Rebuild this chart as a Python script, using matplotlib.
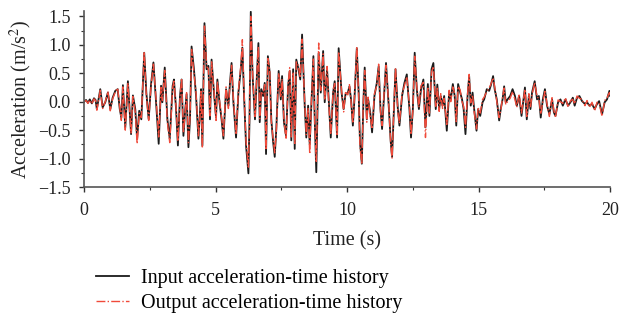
import matplotlib
matplotlib.use("Agg")
import matplotlib.pyplot as plt
from matplotlib.ticker import MultipleLocator

# peak / trough readings (time in s, acceleration in m/s^2)
t_s = [
    0.00, 0.08, 0.15, 0.22, 0.30, 0.38, 0.44, 0.49, 0.62, 0.71,
    0.81, 0.91, 1.00, 1.09, 1.19, 1.28, 1.36, 1.42, 1.48, 1.57,
    1.67, 1.79, 1.86, 1.95, 2.02, 2.10, 2.18, 2.29, 2.37, 2.46,
    2.55, 2.64, 2.74, 2.84, 2.93, 2.98, 3.07, 3.17, 3.26, 3.37,
    3.42, 3.50, 3.57, 3.65, 3.71, 3.78, 3.84, 3.90, 3.97, 4.03,
    4.09, 4.18, 4.26, 4.35, 4.41, 4.45, 4.50, 4.58, 4.66, 4.73,
    4.79, 4.85, 4.94, 5.02, 5.07, 5.15, 5.23, 5.30, 5.40, 5.49,
    5.55, 5.61, 5.68, 5.78, 5.87, 5.96, 6.02, 6.08, 6.16, 6.25,
    6.29, 6.34, 6.41, 6.50, 6.56, 6.63, 6.68, 6.74, 6.81, 6.87,
    6.92, 6.99, 7.06, 7.12, 7.19, 7.25, 7.31, 7.40, 7.48, 7.53,
    7.60, 7.68, 7.76, 7.82, 7.88, 7.95, 8.01, 8.07, 8.14, 8.22,
    8.29, 8.39, 8.45, 8.52, 8.58, 8.64, 8.72, 8.77, 8.83, 8.92,
    9.00, 9.09, 9.15, 9.24, 9.30, 9.38, 9.47, 9.53, 9.62, 9.68,
    9.79, 9.87, 9.94, 10.03, 10.09, 10.15, 10.22, 10.28, 10.37, 10.44,
    10.49, 10.56, 10.62, 10.67, 10.75, 10.80, 10.88, 10.95, 11.04, 11.13,
    11.20, 11.27, 11.33, 11.42, 11.48, 11.59, 11.66, 11.71, 11.78, 11.84,
    11.93, 11.99, 12.09, 12.18, 12.27, 12.37, 12.43, 12.50, 12.57, 12.65,
    12.73, 12.81, 12.90, 12.98, 13.07, 13.13, 13.21, 13.28, 13.37, 13.43,
    13.50, 13.56, 13.63, 13.69, 13.79, 13.88, 13.94, 14.02, 14.09, 14.15,
    14.22, 14.30, 14.37, 14.43, 14.50, 14.58, 14.64, 14.70, 14.77, 14.83,
    14.92, 14.98, 15.06, 15.15, 15.21, 15.31, 15.40, 15.46, 15.55, 15.61,
    15.69, 15.78, 15.84, 15.91, 15.97, 16.03, 16.10, 16.20, 16.29, 16.38,
    16.45, 16.54, 16.63, 16.76, 16.83, 16.91, 16.97, 17.03, 17.13, 17.22,
    17.29, 17.36, 17.44, 17.52, 17.60, 17.69, 17.79, 17.86, 17.92, 18.02,
    18.11, 18.20, 18.30, 18.40, 18.49, 18.58, 18.65, 18.74, 18.83, 18.93,
    19.04, 19.12, 19.21, 19.31, 19.41, 19.50, 19.58, 19.69, 19.79, 19.88,
    19.97, 20.00,
]

acc_in = [
    0.00, 0.03, -0.02, 0.04, -0.03, 0.06, 0.03, -0.13, 0.22, -0.10,
    -0.01, 0.16, -0.13, 0.07, 0.19, 0.22, -0.13, -0.28, 0.29, -0.45,
    0.36, -0.57, 0.11, -0.13, -0.65, -0.16, -0.31, 0.86, 0.16, -0.31,
    0.31, 0.69, -0.01, -0.74, 0.28, -0.01, 0.60, -0.31, -0.65, 0.28,
    0.39, -0.13, -0.77, 0.10, 0.39, -0.60, -0.19, 0.13, -0.80, -0.31,
    0.97, 0.57, 0.10, -0.65, -0.19, 0.22, -0.77, 1.38, 0.57, 0.63,
    -0.31, 0.74, 0.16, -0.28, 0.39, -0.01, -0.31, -0.65, 0.22, -0.07,
    0.33, 0.68, -0.01, -0.63, 0.16, 0.57, 0.95, 0.16, -0.77, -1.26,
    -0.36, 1.58, 0.45, -0.31, 0.33, 1.03, -0.36, 0.22, 0.10, 0.33,
    -0.92, 0.80, 0.51, -0.31, -0.71, -0.97, -0.48, 0.54, 0.04, 0.45,
    -0.36, -0.60, 0.28, 0.54, -0.68, 0.57, -0.83, 0.74, 0.60, 0.39,
    1.18, -0.07, -0.63, -0.07, -0.75, -0.07, 0.80, -0.31, -1.24, 0.85,
    0.16, 0.89, -0.01, 0.57, 0.04, -0.63, 0.16, 0.36, -0.63, 0.94,
    0.16, -0.13, 0.13, 0.16, 0.27, 0.04, -0.42, 0.04, 0.94, 0.16,
    -0.71, -1.09, -0.01, 0.60, -0.31, 0.04, -0.19, -0.54, 0.10, 0.33,
    0.62, -0.13, -0.48, 0.22, 0.68, -0.13, -0.71, -0.97, -0.13, 0.57,
    -0.13, -0.42, 0.10, 0.33, 0.48, -0.13, -0.63, -0.13, 0.86, 0.22,
    -0.13, 0.22, 0.39, -0.45, 0.31, -0.25, 0.57, 0.68, -0.13, 0.30,
    -0.13, 0.10, -0.07, 0.10, -0.51, 0.16, 0.04, 0.31, 0.10, -0.42,
    0.31, 0.16, 0.04, -0.13, -0.57, 0.10, 0.45, -0.07, 0.16, -0.13,
    -0.51, -0.13, -0.25, -0.01, 0.04, 0.22, 0.19, 0.28, 0.45, 0.22,
    0.04, -0.33, -0.13, 0.04, 0.27, -0.01, 0.04, 0.10, 0.22, 0.10,
    -0.07, 0.10, -0.25, 0.25, -0.31, 0.10, -0.13, 0.16, 0.36, 0.04,
    0.10, -0.28, 0.04, 0.22, -0.07, -0.22, 0.04, -0.19, -0.25, -0.01,
    0.04, -0.07, 0.04, -0.07, -0.01, 0.07, -0.07, 0.07, 0.10, 0.01,
    -0.04, -0.01, -0.07, -0.04, -0.13, -0.04, 0.01, -0.22, -0.01, 0.04,
    0.19, 0.10,
]

acc_out = [
    0.00, 0.02, -0.03, 0.03, -0.04, 0.05, 0.02, -0.15, 0.20, -0.12,
    0.00, 0.18, -0.16, 0.05, 0.17, 0.24, -0.10, -0.33, 0.26, -0.50,
    0.33, -0.55, 0.09, -0.18, -0.74, -0.20, -0.28, 0.88, 0.12, -0.33,
    0.28, 0.66, 0.04, -0.62, 0.25, 0.02, 0.55, -0.36, -0.72, 0.24,
    0.36, -0.10, -0.70, 0.06, 0.41, -0.55, -0.22, 0.16, -0.72, -0.28,
    0.92, 0.50, 0.14, -0.60, -0.25, 0.18, -0.82, 1.33, 0.62, 0.58,
    -0.25, 0.70, 0.20, -0.33, 0.36, 0.03, -0.27, -0.60, 0.26, -0.12,
    0.30, 0.64, 0.04, -0.58, 0.20, 0.62, 1.09, 0.22, -0.70, -1.15,
    -0.30, 1.50, 0.50, -0.26, 0.38, 0.97, -0.30, 0.18, 0.14, 0.30,
    -0.85, 0.76, 0.55, -0.36, -0.66, -0.90, -0.52, 0.50, 0.08, 0.40,
    -0.32, -0.66, 0.32, 0.60, -0.62, 0.52, -0.76, 0.70, 0.64, 0.42,
    1.10, -0.02, -0.58, -0.12, -0.92, -0.02, 0.75, -0.36, -1.05, 1.03,
    0.20, 0.84, 0.03, 0.62, 0.00, -0.58, 0.20, 0.32, -0.60, 0.88,
    0.20, -0.18, 0.16, 0.12, 0.30, 0.00, -0.38, 0.08, 0.97, 0.10,
    -0.78, -1.10, 0.04, 0.55, -0.36, 0.08, -0.25, -0.48, 0.14, 0.28,
    0.66, -0.18, -0.42, 0.26, 0.64, -0.10, -0.76, -1.00, -0.08, 0.60,
    -0.18, -0.38, 0.14, 0.28, 0.44, -0.08, -0.58, -0.16, 0.80, 0.26,
    -0.10, 0.28, 0.34, -0.63, 0.26, -0.20, 0.52, 0.62, -0.08, 0.26,
    -0.17, 0.14, -0.12, 0.06, -0.40, 0.20, 0.00, 0.26, 0.14, -0.35,
    0.27, 0.20, 0.00, -0.08, -0.45, 0.14, 0.48, -0.02, 0.12, -0.18,
    -0.48, -0.10, -0.20, 0.04, 0.08, 0.18, 0.24, 0.30, 0.42, 0.26,
    0.00, -0.28, -0.16, 0.08, 0.24, -0.05, 0.00, 0.06, 0.18, 0.04,
    -0.10, 0.14, -0.20, 0.22, -0.26, 0.14, -0.10, 0.12, 0.34, 0.08,
    0.06, -0.22, 0.00, 0.18, -0.04, -0.26, 0.07, -0.15, -0.28, 0.03,
    0.00, -0.03, 0.07, -0.10, 0.02, 0.04, -0.04, 0.10, 0.06, 0.04,
    -0.07, 0.02, -0.10, -0.01, -0.16, -0.01, -0.02, -0.26, 0.02, 0.07,
    0.16, 0.12,
]

assert len(t_s) == len(acc_in) == len(acc_out)

plt.rcParams["font.family"] = ["Liberation Serif", "DejaVu Serif"]
plt.rcParams["mathtext.fontset"] = "stix"

fig = plt.figure(figsize=(6.22, 3.23), dpi=100)
ax = fig.add_axes([0.135, 0.421, 0.846, 0.546])

ax.plot(t_s, acc_in, color="#1a1a1a", lw=1.3, label="Input acceleration-time history")
ax.plot(t_s, acc_out, color="#f04a3a", lw=1.0, ls="-.", label="Output acceleration-time history")

ax.set_xlim(0, 20)
ax.set_ylim(-1.5, 1.6)
ax.xaxis.set_major_locator(MultipleLocator(5))
ax.xaxis.set_minor_locator(MultipleLocator(2.5))
ax.yaxis.set_minor_locator(MultipleLocator(0.25))
ax.set_yticks([-1.5, -1.0, -0.5, 0.0, 0.5, 1.0, 1.5])
ax.set_yticklabels(["\u22121.5", "\u22121.0", "\u22120.5", "0.0", "0.5", "1.0", "1.5"])

for side in ("top", "right"):
    ax.spines[side].set_visible(False)
for side in ("left", "bottom"):
    ax.spines[side].set_color("#555555")
    ax.spines[side].set_linewidth(1.2)
ax.tick_params(which="major", direction="out", length=3.6, width=1, colors="#333333",
               labelsize=13, labelcolor="#222222")
ax.tick_params(axis="x", which="major", pad=7)
ax.tick_params(axis="y", which="major", pad=6)
ax.tick_params(which="minor", direction="out", length=2.2, width=0.8, colors="#333333")

ax.set_xlabel("Time (s)", fontsize=14.5, color="#222222", labelpad=9)
ax.set_ylabel("Acceleration (m/s$^2$)", fontsize=14.5, color="#222222", labelpad=3)

fig.legend(loc="center left", bbox_to_anchor=(0.155, 0.098), frameon=False,
           fontsize=14.5, handlelength=1.6, handletextpad=0.6, labelspacing=0.3,
           borderpad=0, borderaxespad=0)

fig.savefig("out.png", dpi=100)
